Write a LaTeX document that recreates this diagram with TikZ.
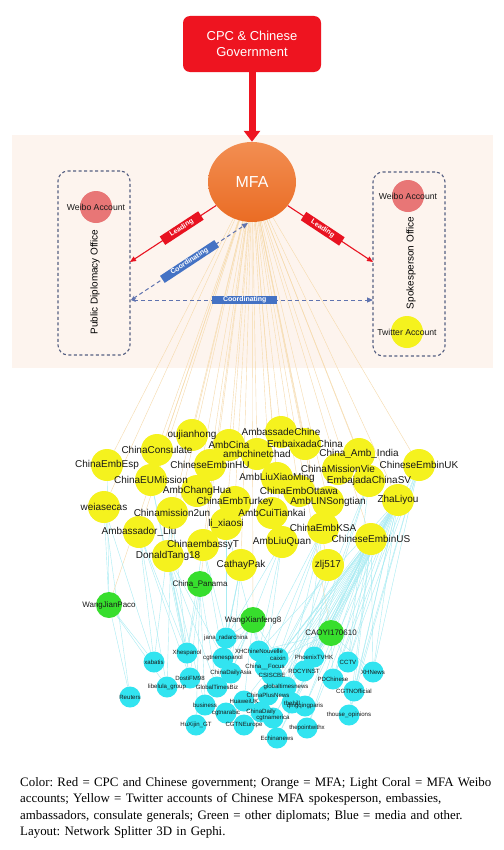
\documentclass[tikz,border=0pt]{standalone}
\usepackage{fontspec}
\setmainfont{Liberation Serif}
\setsansfont{Liberation Sans}
\usetikzlibrary{arrows.meta,shapes.geometric,calc}
\pgfdeclarelayer{bg}\pgfdeclarelayer{edges}\pgfdeclarelayer{fg}
\pgfsetlayers{bg,edges,main,fg}
\definecolor{peach}{RGB}{253,244,238}
\definecolor{govred}{RGB}{238,20,32}
\definecolor{leadred}{RGB}{232,18,32}
\definecolor{coordblue}{RGB}{68,114,196}
\definecolor{coordln}{RGB}{95,115,175}
\definecolor{dboxc}{RGB}{85,95,130}
\definecolor{coral}{RGB}{232,118,118}
\definecolor{yel}{RGB}{245,242,30}
\definecolor{grn}{RGB}{55,222,45}
\definecolor{cyn}{RGB}{50,228,240}
\definecolor{oedgec}{RGB}{246,218,170}
\definecolor{cedgec}{RGB}{168,236,243}
\definecolor{mfatop}{RGB}{242,142,82}
\definecolor{mfabot}{RGB}{234,108,36}
\definecolor{labc}{RGB}{25,25,25}
\tikzset{
  govbox/.style={draw=none,fill=govred,rounded corners=7bp,minimum width=138bp,minimum height=56bp,align=center,text=white,font=\sffamily\fontsize{13}{16}\selectfont},
  mfanode/.style={ellipse,minimum width=88bp,minimum height=80bp,inner sep=0,top color=mfatop,bottom color=mfabot,draw=none,text=white,font=\sffamily\fontsize{16}{18}\selectfont},
  dbox/.style={draw=dboxc,line width=1.1bp,dash pattern=on 3bp off 2.5bp,rounded corners=10bp,minimum width=72bp,minimum height=184bp},
  cornode/.style={circle,fill=coral,minimum size=32bp,inner sep=0},
  ynode/.style={circle,fill=yel,minimum size=32bp,inner sep=0},
  gnode/.style={circle,fill=grn,minimum size=26bp,inner sep=0},
  bnode/.style={circle,fill=cyn,minimum size=21bp,inner sep=0},
  acclab/.style={text=labc,font=\sffamily\fontsize{8.7}{10}\selectfont,inner sep=0},
  offlab/.style={rotate=90,text=black,font=\sffamily\fontsize{10}{12}\selectfont,inner sep=0},
  ylab/.style={text=labc,font=\sffamily\fontsize{10}{12}\selectfont,inner sep=0},
  glab/.style={text=labc,font=\sffamily\fontsize{8}{10}\selectfont,inner sep=0},
  blab/.style={text=labc,font=\sffamily\fontsize{6.1}{7}\selectfont,inner sep=0},
  leadline/.style={draw=leadred,line width=1.1bp,-{Triangle[length=6bp,width=5bp]}},
  leadlbl/.style={fill=leadred,text=white,font=\sffamily\bfseries\fontsize{7}{8}\selectfont,minimum width=46bp,minimum height=10bp,inner sep=0},
  coordline/.style={draw=coordln,line width=1bp,dash pattern=on 4bp off 3bp,{Stealth[length=5bp,width=4bp]}-{Triangle[length=6bp,width=5bp]}},
  coordlbl/.style={fill=coordblue,text=white,font=\sffamily\bfseries\fontsize{7}{8}\selectfont,minimum width=65bp,minimum height=8.5bp,inner sep=0},
  oedge/.style={draw=oedgec,line width=0.4bp},
  cedge/.style={draw=cedgec,line width=0.4bp},
  govarrow/.style={draw=govred,line width=7bp,-{Triangle[length=11bp,width=16bp]}},
  caption/.style={anchor=north west,text width=485bp,align=left,inner sep=0,font=\rmfamily\fontsize{12.95}{16.6}\selectfont\frenchspacing}
}
\def\ylist{y1/192/435/oujianhong, y2/157/450/ChinaConsulate, y3/107/465/ChinaEmbEsp, y4/229/445/AmbCina, y5/210/465/ChineseEmbinHU, y6/257/454/ambchinetchad, y7/281/432/AmbassadeChine, y8/305/444/EmbaixadaChina, y9/359/454/China\_Amb\_India, y10/419/465/ChineseEmbinUK, y11/338/469/ChinaMissionVie, y12/369/481/EmbajadaChinaSV, y13/277/478/AmbLiuXiaoMing, y14/299/491/ChinaEmbOttawa, y15/328/502/AmbLINSongtian, y16/398/500/ZhaLiyou, y17/323/528/ChinaEmbKSA, y18/371/539/ChineseEmbinUS, y19/282/542/AmbLiuQuan, y20/272/513/AmbCuiTiankai, y21/328/565/zlj517, y22/241/565/CathayPak, y23/151/480/ChinaEUMission, y24/197/491/AmbChangHua, y25/235/502/ChinaEmbTurkey, y26/104/507/weiasecas, y27/172/513/Chinamission2un, y28/226/524/li\_xiaosi, y29/139/532/Ambassador\_Liu, y30/203/545/ChinaembassyT, y31/168/556/DonaldTang18}
\def\glist{g1/200/584/China\_Panama, g2/109/605/WangJianPaco, g3/253/620/WangXianfeng8, g4/331/633/CAOYI170610}
\def\blist{b1/154/662/xabatis, b2/187/653/Xhespanol, b3/130/697/Reuters, b4/167/687/libelula\_group, b5/190/678/DostiFM98, b6/226/638/jana\_radarchina, b7/223/658/cgtnenespanol, b8/259/651/XHChineNouvelle, b9/278/658/caixin, b10/265/667/China\_\_Focus, b11/231/673/ChinaDailyAsia, b12/272/675/CSISCBE, b13/217/687/GlobalTimesBiz, b14/286/687/globaltimesnews, b15/268/695/ChinaPlusNews, b16/244/701/HuaweiUK, b17/205/705/business, b18/226/713/cgtnarabic, b19/261/712/ChinaDaily, b20/273/718/cgtnamerica, b21/196/725/HuXijin\_GT, b22/244/725/CGTNEurope, b23/277/738/Echinanews, b24/307/728/thepointwithx, b25/292/703/thehill, b26/305/706/qingqingparis, b27/314/657/PhoenixTVHK, b28/304/671/RDCYINST, b29/348/662/CCTV, b30/373/672/XHNews, b31/333/679/PDChinese, b32/354/691/CGTNOfficial, b33/349/715/thouse\_opinions}
\begin{document}
\begin{tikzpicture}[x=1bp,y=-1bp]
\useasboundingbox (0,0) rectangle (504,850);
\begin{pgfonlayer}{bg}
\fill[white] (0,0) rectangle (504,850);
\fill[peach] (12,135) rectangle (493,368);
\end{pgfonlayer}
% top
\node[govbox] (gov) at (252,44) {CPC \& Chinese\\Government};
\node[mfanode] (mfa) at (252,182) {MFA};
\draw[govarrow] (gov.south) -- (mfa.north);
% offices
\node[dbox] (pdo) at (94,263) {};
\node[dbox] (spo) at (409,264) {};
\node[cornode] (wl) at (96,207) {};
\node[cornode] (wr) at (408,196) {};
\node[ynode] (tw) at (407,332) {};
\node[offlab] (pdot) at (95,282) {Public Diplomacy Office};
\node[offlab] (spot) at (411,263) {Spokesperson Office};
\coordinate (lt) at (130,262);
\coordinate (rt) at (373,262);
\coordinate (cl) at (131,300);
\coordinate (cr) at (373,300);
\coordinate (cm) at (248,223);
\draw[leadline] (mfa) -- node[leadlbl,sloped,pos=0.4] (ll) {Leading} (lt);
\draw[leadline] (mfa) -- node[leadlbl,sloped,pos=0.41] (lr) {Leading} (rt);
\draw[coordline] (cl) -- node[coordlbl,sloped,pos=0.5] (c1) {Coordinating} (cm);
\draw[coordline] (cl) -- node[coordlbl,pos=0.47] (c2) {Coordinating} (cr);
% network nodes
\foreach \n/\x/\y/\t in \ylist { \node[ynode] (\n) at (\x,\y) {}; }
\foreach \n/\x/\y/\t in \glist { \node[gnode] (\n) at (\x,\y) {}; }
\foreach \n/\x/\y/\t in \blist { \node[bnode] (\n) at (\x,\y) {}; }
% edges
\begin{pgfonlayer}{edges}
\foreach \n/\x/\y/\t in \ylist { \draw[oedge] (mfa.center) -- (\n); }
\foreach \n/\x/\y/\t in \glist { \draw[oedge] (mfa.center) -- (\n); }
\foreach \s/\ts in {
  y16/{b27,b28,b29,b30,b31,b32,b33,b14,b15,b12,b9,b8,b24,b26,b25,b19,b23,b20},
  y18/{b29,b30,b31,b32,b33,b27,b28,b14,b24,b26,b25,b23,b20,b22,b16,b9,b12},
  y10/{b30,b29,b32,b33,b31,b27},
  y12/{b27,b28,b29,b14},
  y17/{b8,b9,b10,b14,b28},
  y21/{b9,b14,b12,b27},
  g4/{b27,b28,b29,b30,b31,b14,b9,b8},
  g3/{b6,b7,b8,b9,b10,b11,b13,b16},
  y19/{b6,b8,b10,b11},
  y22/{b6,b7,b11,b13},
  y26/{b3,b1,g2},
  y29/{b1,b2,b4,b5},
  y31/{b2,b5,b7,b13,b17},
  y30/{b6,b7,b2},
  g1/{b2,b5,b13,b17,b21},
  g2/{b3,b1,b4},
  y3/{g2},
  y27/{b1,b2,b4},
  y23/{b2,b5},
  y28/{b6,b8}} {
  \foreach \t in \ts { \draw[cedge] (\s) -- (\t); }
}
\end{pgfonlayer}
% labels
\begin{pgfonlayer}{fg}
\node[acclab] (wlt) at (wl) {Weibo Account};
\node[acclab] (wrt) at (wr) {Weibo Account};
\node[acclab] (twt) at (tw) {Twitter Account};
\foreach \n/\x/\y/\t in \ylist { \node[ylab] (\n-l) at (\n) {\t}; }
\foreach \n/\x/\y/\t in \glist { \node[glab] (\n-l) at (\n) {\t}; }
\foreach \n/\x/\y/\t in \blist { \node[blab] (\n-l) at (\n) {\t}; }
\end{pgfonlayer}
\node[caption] (cap) at (20,777) {Color: Red = CPC and Chinese government; Orange = MFA; Light Coral = MFA Weibo\\accounts; Yellow = Twitter accounts of Chinese MFA spokesperson, embassies,\\ambassadors, consulate generals; Green = other diplomats; Blue = media and other.\\Layout: Network Splitter 3D in Gephi.};
\end{tikzpicture}
\end{document}
